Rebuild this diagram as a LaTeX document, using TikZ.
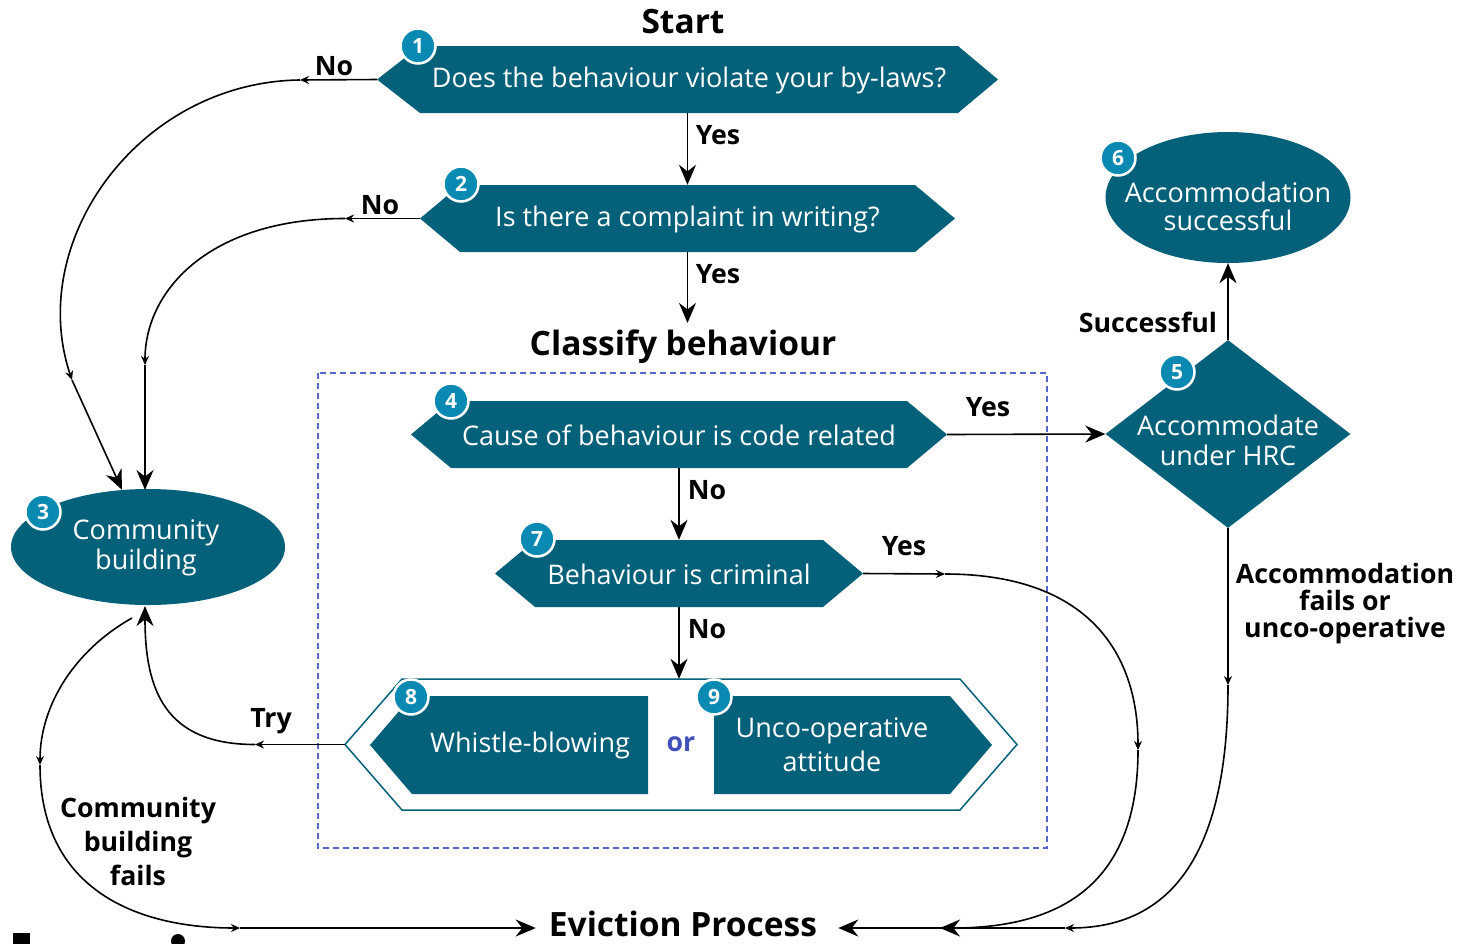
\documentclass[tikz,border=0pt]{standalone}
\usepackage{fontspec}
\setmainfont{Open Sans}
\usetikzlibrary{shapes.geometric,arrows.meta,calc}
\definecolor{tealc}{HTML}{05607A}
\definecolor{badgec}{HTML}{0A8AB3}
\definecolor{orc}{HTML}{4050B8}
\definecolor{dashc}{HTML}{5566C8}
\tikzset{
  txt/.style={text=white, font=\fontsize{27}{30}\selectfont, align=center, inner sep=0pt},
  lbl/.style={font=\bfseries\fontsize{26.7}{27}\selectfont, text=black, align=center, inner sep=0pt},
  ttl/.style={font=\bfseries\fontsize{33.5}{36}\selectfont, text=black, inner sep=0pt},
  badge/.style={circle, fill=badgec, draw=white, line width=2.5pt, minimum size=35pt, inner sep=0pt, text=white, font=\bfseries\fontsize{21}{21}\selectfont},
  conn/.style={line width=1.6pt, black},
  bigarr/.style={conn, -{Stealth[length=20pt,width=17pt]}},
  smallarr/.style={conn, -{Stealth[length=9pt,width=8pt]}},
  shapebox/.style={rectangle, inner sep=0pt},
  bubble/.style={ellipse, fill=tealc, inner sep=0pt},
}
% name, cx, cy, half width, half height, left slant, right slant, text
\newcommand\hexnode[8]{%
  \fill[tealc] (#2-#4,#3) -- (#2-#4+#6,#3-#5) -- (#2+#4-#7,#3-#5) -- (#2+#4,#3)
     -- (#2+#4-#7,#3+#5) -- (#2-#4+#6,#3+#5) -- cycle;
  \node[shapebox, minimum width=2*#4, minimum height=2*#5] (#1) at (#2,#3) {};
  \node[txt] (#1t) at (#2+#6/2-#7/2,#3+0.5) {#8};
}
\begin{document}
\begin{tikzpicture}[x=1pt,y=-1pt]
\useasboundingbox (0,0) rectangle (1474,943);

% dashed classification box
\draw[dashc, line width=1.4pt, dash pattern=on 6pt off 4pt] (318,373) rectangle (1047,848);

% titles
\node[ttl] (start) at (683,22) {Start};
\node[ttl] (ct) at (683,347) {Classify behaviour};
\node[ttl] (ev) at (683,924) {Eviction Process};

% decision shapes
\hexnode{n1}{687.5}{79.5}{310.5}{33.5}{43}{40}{Does the behaviour violate your by-laws?}
\hexnode{n2}{687.5}{218.5}{267.5}{33.5}{40}{40}{Is there a complaint in writing?}
\hexnode{n4}{679}{434.5}{268}{33.5}{40}{40}{Cause of behaviour is code related}
\hexnode{n7}{679}{573.5}{184}{33.5}{40}{40}{Behaviour is criminal}

% container of 8 and 9
\filldraw[draw=tealc, fill=white, line width=1.5pt] (345,744.5) -- (402,679) -- (960,679) -- (1017,744.5) -- (960,810) -- (402,810) -- cycle;
\node[shapebox, minimum width=672, minimum height=131] (n89) at (681,744.5) {};
\hexnode{n8}{509}{745}{139}{49}{42}{0}{Whistle-blowing}
\fill[tealc] (714,696) -- (950,696) -- (992,745) -- (950,794) -- (714,794) -- cycle;
\node[shapebox, minimum width=278, minimum height=98] (n9) at (853,745) {};
\node[txt, font=\fontsize{27}{34}\selectfont] (n9t) at (832,745) {Unco-operative\\attitude};
\node[font=\bfseries\fontsize{26.7}{27}\selectfont, text=orc, inner sep=0pt] (or) at (681,744) {or};

% ellipses and diamond
\node[bubble, minimum width=274, minimum height=116] (cb) at (148,547) {};
\node[txt] (cbt) at (146,548) {Community\\building};
\node[bubble, minimum width=245, minimum height=131] (n6) at (1228,197.5) {};
\node[txt, font=\fontsize{27}{28}\selectfont] (n6t) at (1228,206) {Accommodation\\successful};
\node[diamond, fill=tealc, aspect=1.3, inner sep=0pt, minimum width=245, minimum height=188] (n5) at (1228,434) {};
\node[txt] (n5t) at (1228,440) {Accommodate\\under HRC};

% badges
\node[badge] (b1) at (418,46) {1};
\node[badge] (b2) at (461,184) {2};
\node[badge] (b3) at (43,512) {3};
\node[badge] (b4) at (451,401) {4};
\node[badge] (b5) at (1177,372) {5};
\node[badge] (b6) at (1118,158) {6};
\node[badge] (b7) at (537,539) {7};
\node[badge] (b8) at (411,697) {8};
\node[badge] (b9) at (714,697) {9};

% straight connectors
\draw[bigarr] (n1.south) -- (n2.north);
\draw[bigarr] (n2.south) -- ($(n2.south |- ct.north)+(0,-7)$);
\draw[bigarr] (n4.south) -- (n7.north);
\draw[bigarr] (n7.south) -- (n7.south |- n89.north);
\draw[bigarr] (n4.east) -- (n5.west);
\draw[bigarr] (n5.north) -- (n6.south);

% No from 1 to community building
\coordinate (a1) at (300,80);
\coordinate (a2) at (72,380);
\draw[smallarr] (n1.west) -- (a1);
\draw[smallarr] (a1) .. controls (140,82) and (25,240) .. (a2);
\draw[bigarr] (a2) -- (cb);

% No from 2 to community building
\coordinate (c1) at (345,218.5);
\coordinate (c2) at (145,365);
\draw[smallarr] (n2.west) -- (c1);
\draw[smallarr] (c1) .. controls (210,218.5) and (145,290) .. (c2);
\draw[bigarr] (c2) -- (145,490);

% Try
\coordinate (t1) at (255,744.5);
\draw[smallarr] (n89.west) -- (t1);
\draw[bigarr] (t1) .. controls (165,744.5) and (145,690) .. (145,606);

% Community building fails
\coordinate (f0) at (132,618);
\coordinate (f1) at (40,765);
\coordinate (f2) at (240,928);
\draw[smallarr] (f0) .. controls (75,650) and (40,705) .. (f1);
\draw[smallarr] (f1) .. controls (40,885) and (130,928) .. (f2);
\draw[bigarr, shorten >=13pt] (f2) -- (ev.west |- f2);

% criminal -> eviction
\coordinate (k1) at (945,574);
\coordinate (k2) at (1138,750);
\coordinate (k3) at (940,928);
\draw[smallarr] (n7.east) -- (k1);
\draw[smallarr] (k1) .. controls (1085,574) and (1138,650) .. (k2);
\draw[bigarr] (k2) .. controls (1138,885) and (1060,928) .. (k3);

% accommodation fails -> eviction
\coordinate (m1) at (1228,685);
\coordinate (m2) at (1065,928);
\draw[smallarr] (n5.south) -- (m1);
\draw[smallarr] (m1) .. controls (1228,870) and (1160,928) .. (m2);
\draw[bigarr, shorten >=21pt] (m2) -- (ev.east |- m2);

% labels
\node[lbl] (l1) at (334,66) {No};
\node[lbl] (l2) at (718,135) {Yes};
\node[lbl] (l3) at (380,205) {No};
\node[lbl] (l4) at (718,274) {Yes};
\node[lbl] (l5) at (988,407) {Yes};
\node[lbl] (l6) at (707,490) {No};
\node[lbl] (l7) at (904,546) {Yes};
\node[lbl] (l8) at (707,629) {No};
\node[lbl] (l9) at (271,721) {Try};
\node[lbl] (l10) at (1148,322) {Successful};
\node[lbl] (l11) at (1345,604) {Accommodation\\fails or\\unco-operative};
\node[lbl, font=\bfseries\fontsize{26.7}{34}\selectfont] (l12) at (138,841) {Community\\building\\fails};

% cut-off fragments at bottom left
\fill (13,933) rectangle (30,945);
\fill (178,941) circle (7);
\end{tikzpicture}
\end{document}
